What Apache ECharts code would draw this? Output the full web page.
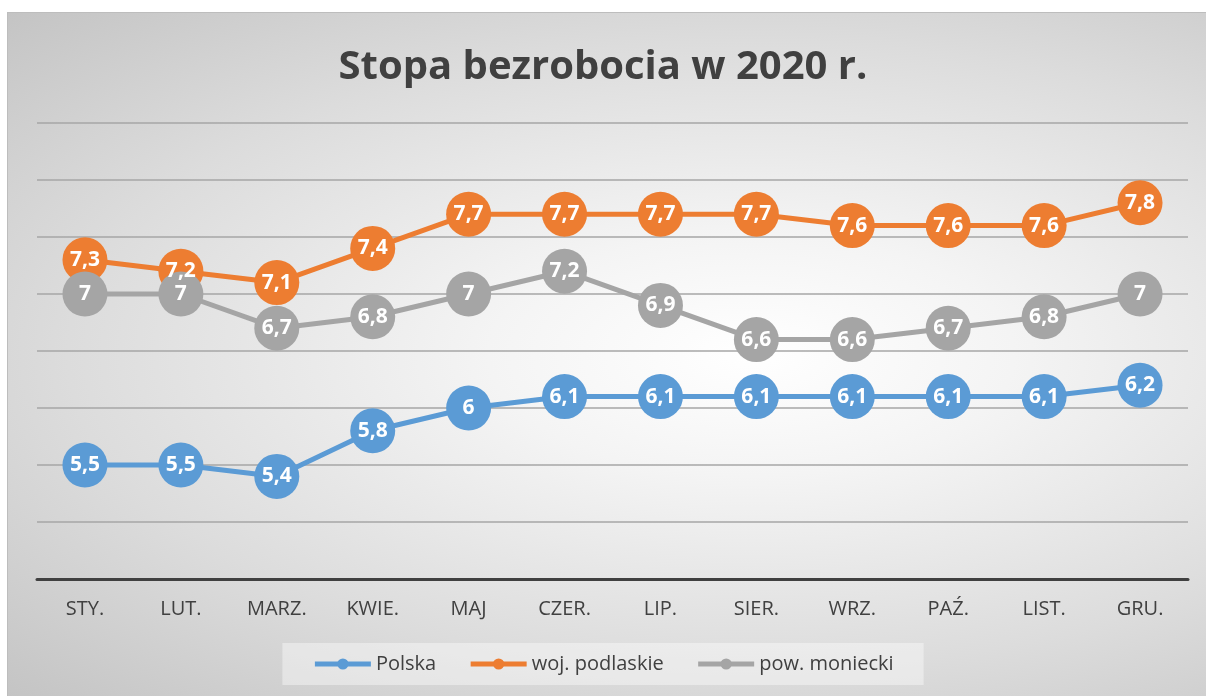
<!DOCTYPE html>
<html>
<head>
<meta charset="utf-8">
<script src="https://cdn.jsdelivr.net/npm/echarts@6/dist/echarts.min.js"></script>
<style>
  html, body { margin: 0; padding: 0; background: #fff; }
  #bg {
    position: absolute; left: 7px; top: 12px; width: 1199px; height: 684px;
    border-left: 1px solid #bdbdbd; border-top: 1px solid #bdbdbd;
    background: radial-gradient(ellipse at 62% 50%, #ffffff 0%, #f4f4f4 25%, #dcdcdc 65%, #c4c4c4 100%);
  }
  #main { position: absolute; left: 0; top: 0; width: 1206px; height: 696px; }
</style>
</head>
<body>
<div id="bg"></div>
<div id="main"></div>
<script>
  // dane
  var months = ['STY.', 'LUT.', 'MARZ.', 'KWIE.', 'MAJ', 'CZER.', 'LIP.', 'SIER.', 'WRZ.', 'PAŹ.', 'LIST.', 'GRU.'];
  var polska = [5.5, 5.5, 5.4, 5.8, 6, 6.1, 6.1, 6.1, 6.1, 6.1, 6.1, 6.2];
  var podlaskie = [7.3, 7.2, 7.1, 7.4, 7.7, 7.7, 7.7, 7.7, 7.6, 7.6, 7.6, 7.8];
  var moniecki = [7, 7, 6.7, 6.8, 7, 7.2, 6.9, 6.6, 6.6, 6.7, 6.8, 7];

  var myChart = echarts.init(document.getElementById('main'));

  function makeSeries(name, data, color) {
    return {
      name: name,
      type: 'line',
      data: data,
      symbol: 'circle',
      symbolSize: 45,
      lineStyle: { width: 5, color: color },
      itemStyle: { color: color },
      label: {
        show: true,
        position: 'inside',
        color: '#fff',
        fontWeight: 'bold',
        fontSize: 21,
        fontFamily: 'Open Sans',
        formatter: function (p) { return String(p.value).replace('.', ','); }
      },
      emphasis: { disabled: true },
      animation: false
    };
  }

  var option = {
    backgroundColor: 'rgba(255,255,255,0)',
    title: {
      text: 'Stopa bezrobocia w 2020 r.',
      left: 'center',
      top: 43,
      textStyle: { fontSize: 40, fontWeight: 'bold', color: '#404040', fontFamily: 'Open Sans' }
    },
    legend: {
      bottom: 11,
      left: 'center',
      itemWidth: 56,
      itemHeight: 14,
      itemGap: 32,
      padding: [11, 30],
      backgroundColor: 'rgba(255,255,255,0.4)',
      lineStyle: { width: 5 },
      textStyle: { fontSize: 20, color: '#404040', fontFamily: 'Open Sans' },
      data: ['Polska', 'woj. podlaskie', 'pow. moniecki']
    },
    grid: { left: 37, right: 18, top: 123, bottom: 117 },
    xAxis: {
      type: 'category',
      data: months,
      axisLine: { lineStyle: { color: '#404040', width: 3 } },
      axisTick: { show: false },
      axisLabel: { fontSize: 20, color: '#404040', margin: 20, fontFamily: 'Open Sans' }
    },
    yAxis: {
      type: 'value',
      min: 4.5,
      max: 8.5,
      interval: 0.5,
      axisLabel: { show: false },
      axisLine: { show: false },
      axisTick: { show: false },
      splitLine: { lineStyle: { color: '#a6a6a6', width: 1.5 } }
    },
    series: [
      makeSeries('Polska', polska, '#5B9BD5'),
      makeSeries('woj. podlaskie', podlaskie, '#ED7D31'),
      makeSeries('pow. moniecki', moniecki, '#A5A5A5')
    ]
  };

  myChart.setOption(option);
</script>
</body>
</html>
